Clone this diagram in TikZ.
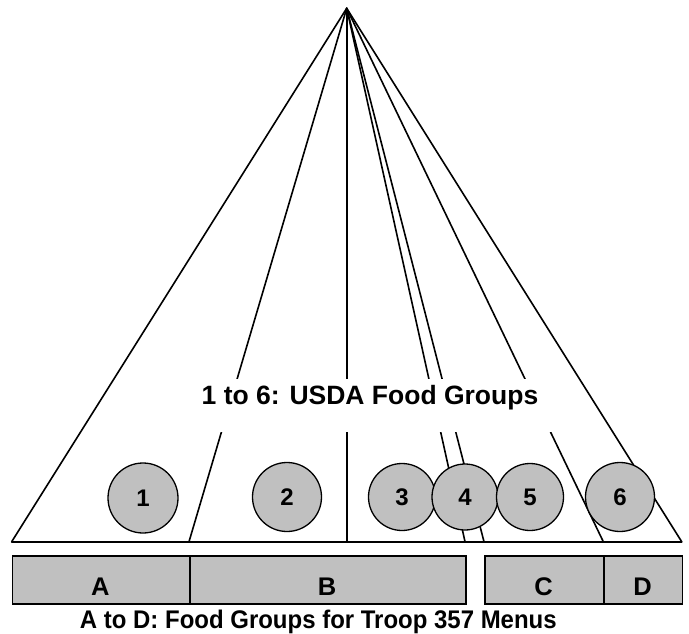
\documentclass[tikz,border=0pt]{standalone}
\usepackage{fontspec}
\setmainfont{Liberation Sans}
\newfontfamily\capfont{Liberation Sans}[FakeStretch=0.94]
\definecolor{silver}{RGB}{192,192,192}
\begin{document}
\begin{tikzpicture}[x=1pt,y=-1pt,
  ray/.style={line width=1.6pt,line cap=round},
  disc/.style={circle,draw,line width=1.3pt,fill=silver,minimum size=69pt,inner sep=0pt,font=\bfseries\fontsize{24}{26}\selectfont},
  barbox/.style={draw,line width=1.5pt,fill=silver,anchor=north west,inner sep=0pt,minimum height=48pt},
  barlabel/.style={anchor=base,inner sep=0pt,font=\bfseries\fontsize{25.5}{28}\selectfont},
  caption/.style={anchor=base,inner sep=0pt,font=\capfont\bfseries\fontsize{25.5}{28}\selectfont}]
\useasboundingbox (0,0) rectangle (689,634);
% apex and base points
\coordinate (apex) at (346.7,8.3);
\coordinate (b0) at (11.7,541.7);
\coordinate (b1) at (189,541.7);
\coordinate (b2) at (346.7,541.7);
\coordinate (b3) at (465,541.7);
\coordinate (b4) at (484,541.7);
\coordinate (b5) at (603.3,541.7);
\coordinate (b6) at (681.7,541.7);
\foreach \b in {b0,b1,b2,b3,b4,b5,b6}{\draw[ray] (apex) -- (\b);}
\draw[ray] (b0) -- (b6);
% title with white background cutting the inner lines
\fill[white] (195,379) rectangle (560,432);
\node[anchor=base,inner sep=0pt,font=\bfseries\fontsize{26.5}{30}\selectfont] (title) at (370,404) {1 to 6: USDA Food Groups};
% USDA circles
\node[disc,minimum size=70pt] (c1) at (143,498) {1};
\node[disc] (c2) at (287,497) {2};
\node[disc,minimum size=67pt] (c3) at (402,497) {3};
\node[disc,minimum size=66pt] (c4) at (465,497) {4};
\node[disc,minimum size=67pt] (c5) at (530,497) {5};
\node[disc] (c6) at (620,497) {6};
% troop bars
\node[barbox,minimum width=177.3pt] (A) at (11.7,555) {};
\node[barbox,minimum width=276pt] (B) at (189,555) {};
\node[barbox,minimum width=119.3pt] (C) at (484,555) {};
\node[barbox,minimum width=78.4pt] (D) at (603.3,555) {};
\node[barlabel] (lA) at (100.3,595) {A};
\node[barlabel] (lB) at (327,595) {B};
\node[barlabel] (lC) at (543.6,595) {C};
\node[barlabel] (lD) at (642.5,595) {D};
\node[caption] (cap) at (318.3,628.3) {A to D: Food Groups for Troop 357 Menus};
\end{tikzpicture}
\end{document}
